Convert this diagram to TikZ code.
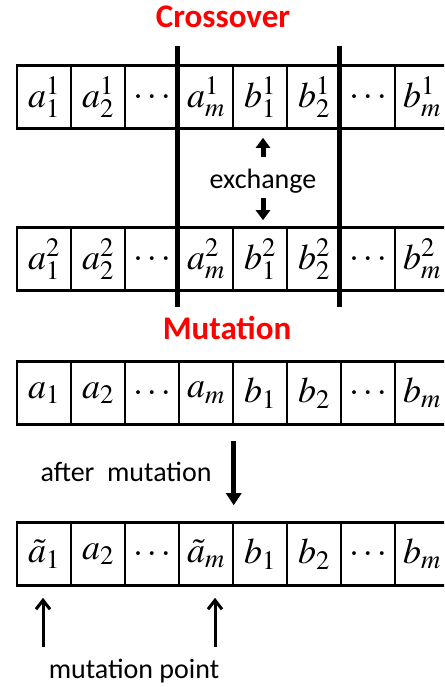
\documentclass[tikz,border=0pt]{standalone}
\usepackage{mathptmx}
\usepackage{fontspec}
\newfontfamily\calfont{Carlito}
\usetikzlibrary{arrows.meta}
\definecolor{titlered}{RGB}{255,0,0}
\newcommand{\dotsx}{.\,.\,.}
\tikzset{
  cell/.style={draw, line width=2.6pt, minimum width=54pt, minimum height=63pt, inner sep=0pt,
    font=\fontsize{36}{40}\selectfont},
  sep/.style={line width=5pt},
  title/.style={font=\calfont\bfseries\fontsize{33}{38}\selectfont, text=titlered},
  lbl/.style={font=\calfont\fontsize{28}{32}\selectfont},
  xarrow/.style={line width=5pt, -{Triangle[width=14pt,length=10pt]}},
  marrow/.style={line width=5.5pt, -{Triangle[width=15pt,length=12pt]}},
  parrow/.style={line width=3pt, -{Straight Barb[width=14pt,length=9pt]}}
}
\begin{document}
\begin{tikzpicture}[x=1pt,y=-1pt]
\clip (0,0) rectangle (444,687);
\useasboundingbox (0,0) rectangle (444,687);
\node[title] (tcross) at (223,17) {Crossover};
\node[title] (tmut) at (227,328) {Mutation};
% row 1
\node[cell] (r1c1) at (44,97) {$a_1^1$};
\node[cell] (r1c2) at (98,97) {$a_2^1$};
\node[cell] (r1c3) at (152,97) {$\dotsx$};
\node[cell] (r1c4) at (206,97) {$a_m^1$};
\node[cell] (r1c5) at (260,97) {$b_1^1$};
\node[cell] (r1c6) at (314,97) {$b_2^1$};
\node[cell] (r1c7) at (368,97) {$\dotsx$};
\node[cell] (r1c8) at (422,97) {$b_m^1$};
% row 2
\node[cell] (r2c1) at (44,259) {$a_1^2$};
\node[cell] (r2c2) at (98,259) {$a_2^2$};
\node[cell] (r2c3) at (152,259) {$\dotsx$};
\node[cell] (r2c4) at (206,259) {$a_m^2$};
\node[cell] (r2c5) at (260,259) {$b_1^2$};
\node[cell] (r2c6) at (314,259) {$b_2^2$};
\node[cell] (r2c7) at (368,259) {$\dotsx$};
\node[cell] (r2c8) at (422,259) {$b_m^2$};
% separators
\draw[sep] ([yshift=18pt]r1c4.north west) -- ([yshift=-15pt]r2c4.south west);
\draw[sep] ([yshift=18pt]r1c7.north west) -- ([yshift=-15pt]r2c7.south west);
% exchange
\node[lbl] (exch) at (263,181) {exchange};
\draw[xarrow] ([xshift=3pt,yshift=-27pt]r1c5.south) -- ([xshift=3pt,yshift=-8pt]r1c5.south);
\draw[xarrow] ([xshift=3pt,yshift=28pt]r2c5.north) -- ([xshift=3pt,yshift=6pt]r2c5.north);
% row 3
\node[cell] (r3c1) at (44,393) {$a_1$};
\node[cell] (r3c2) at (98,393) {$a_2$};
\node[cell] (r3c3) at (152,393) {$\dotsx$};
\node[cell] (r3c4) at (206,393) {$a_m$};
\node[cell] (r3c5) at (260,393) {$b_1$};
\node[cell] (r3c6) at (314,393) {$b_2$};
\node[cell] (r3c7) at (368,393) {$\dotsx$};
\node[cell] (r3c8) at (422,393) {$b_m$};
% row 4
\node[cell] (r4c1) at (44,554) {$\tilde a_1$};
\node[cell] (r4c2) at (98,554) {$a_2$};
\node[cell] (r4c3) at (152,554) {$\dotsx$};
\node[cell] (r4c4) at (206,554) {$\tilde a_m$};
\node[cell] (r4c5) at (260,554) {$b_1$};
\node[cell] (r4c6) at (314,554) {$b_2$};
\node[cell] (r4c7) at (368,554) {$\dotsx$};
\node[cell] (r4c8) at (422,554) {$b_m$};
% after mutation
\node[lbl] (after) at (126,472) {after\ \ mutation};
\draw[marrow] ([xshift=2pt,yshift=-15pt]r3c5.south west) -- ([xshift=2pt,yshift=16pt]r4c5.north west);
% mutation points
\node[lbl] (mpt) at (134,671) {mutation point};
\coordinate (p1) at (43,647);
\coordinate (p2) at (215,647);
\draw[parrow] (p1) -- ([xshift=-1pt,yshift=-11pt]r4c1.south);
\draw[parrow] (p2) -- ([xshift=9pt,yshift=-11pt]r4c4.south);
\end{tikzpicture}
\end{document}
